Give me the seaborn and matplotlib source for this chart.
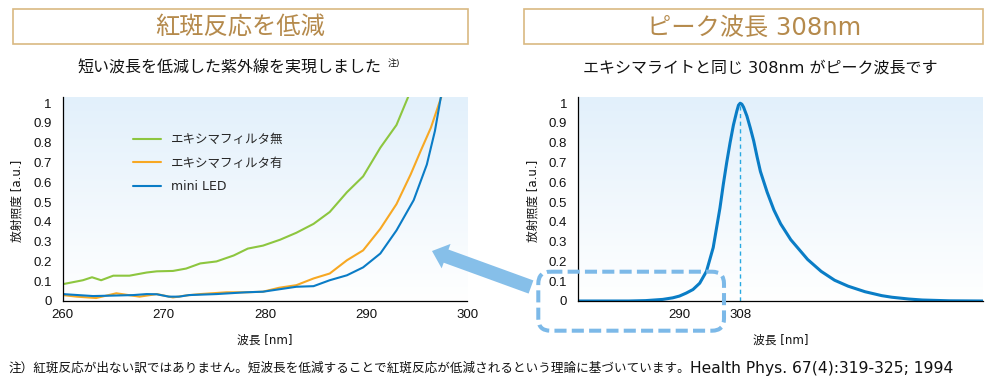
import numpy as np
import pandas as pd
import matplotlib
matplotlib.use("Agg")
import matplotlib.pyplot as plt
import seaborn as sns
from matplotlib.colors import LinearSegmentedColormap
from matplotlib.patches import Rectangle, FancyBboxPatch, FancyArrow

'''DATA (read off the reference)'''
series_names = ["エキシマフィルタ無", "エキシマフィルタ有", "mini LED"]
series_colors = ["#8dc63f", "#f7a823", "#0a7cc6"]

green_nm = [260, 261, 262, 262.9, 263.8, 265, 266.6, 268.3, 269.3, 270.9, 272.2, 273.6,
            275.2, 276.9, 278.3, 279.8, 281.5, 283.1, 284.8, 286.4, 288.1, 289.7,
            291.4, 293, 294.3]
green_val = [0.085, 0.095, 0.105, 0.12, 0.105, 0.128, 0.128, 0.144, 0.15, 0.152, 0.164, 0.19,
             0.2, 0.23, 0.265, 0.28, 0.31, 0.345, 0.39, 0.45, 0.55, 0.63,
             0.775, 0.89, 1.05]

orange_nm = [260, 261.4, 263.3, 265.3, 266.5, 267.6, 269.3, 270.9, 272.2, 273.6, 276.2, 278.1,
             279.8, 281.4, 283.1, 284.8, 286.4, 288.1, 289.7, 291.4, 293, 294.4, 295.4,
             296.4, 297.55]
orange_val = [0.03, 0.022, 0.015, 0.039, 0.03, 0.022, 0.035, 0.018, 0.028, 0.035, 0.044, 0.044,
              0.047, 0.067, 0.08, 0.114, 0.139, 0.206, 0.256, 0.365, 0.49, 0.64, 0.76,
              0.876, 1.05]

blue_nm = [260, 261.5, 263, 264.7, 267, 268.3, 269.3, 270.5, 271.5, 272.5, 275.2, 278.1,
           279.8, 283.1, 284.8, 286.4, 288.1, 289.7, 291.4, 293, 294.7, 296, 296.8, 297.45]
blue_val = [0.035, 0.03, 0.025, 0.027, 0.03, 0.035, 0.034, 0.022, 0.022, 0.03, 0.035, 0.044,
            0.047, 0.072, 0.075, 0.105, 0.13, 0.17, 0.24, 0.357, 0.51, 0.69, 0.86, 1.05]

peak_nm = [260, 275, 280, 285, 288, 290, 292, 294, 296, 298, 300, 302, 303, 304, 305, 306,
           307, 307.5, 308, 308.5, 309, 310, 311, 312, 313, 314, 316, 318, 320, 323, 326,
           328, 332, 336, 340, 345, 350, 353, 358, 362, 370, 380]
peak_val = [0, 0, 0.002, 0.008, 0.016, 0.025, 0.04, 0.058, 0.09, 0.15, 0.27, 0.47, 0.59, 0.7,
            0.8, 0.89, 0.96, 0.99, 1.0, 0.995, 0.98, 0.935, 0.875, 0.81, 0.73, 0.655, 0.55,
            0.46, 0.39, 0.31, 0.25, 0.21, 0.15, 0.105, 0.075, 0.047, 0.027, 0.019, 0.01,
            0.005, 0.001, 0.0]

left_xticks = [260, 270, 280, 290, 300]
right_xticks = [290, 308]
y_ticks = [0, 0.1, 0.2, 0.3, 0.4, 0.5, 0.6, 0.7, 0.8, 0.9, 1]

'''STYLE'''
sns.set_theme(style="white")
plt.rcParams['font.family'] = ['DejaVu Sans', 'Noto Sans CJK JP']
tick_font = ['Liberation Sans', 'Noto Sans CJK JP']

fig = plt.figure(figsize=(10, 3.83), dpi=100)
ax1 = fig.add_axes([0.0627, 0.2141, 0.4046, 0.5319])
ax2 = fig.add_axes([0.5783, 0.2141, 0.4047, 0.5319])

grad_cmap = LinearSegmentedColormap.from_list("bg", ["#ffffff", "#e2f0fb"])
grad = np.linspace(0, 1, 256).reshape(-1, 1)


def style_axes(ax, xlim, xticks):
    ax.imshow(grad, cmap=grad_cmap, aspect="auto", origin="lower",
              extent=[0, 1, 0, 1], transform=ax.transAxes, zorder=0)
    ax.set_xlim(*xlim)
    ax.set_ylim(0, 1.03)
    ax.set_xticks(xticks)
    ax.set_xticklabels([str(t) for t in xticks], family=tick_font)
    ax.set_yticks(y_ticks)
    ax.set_yticklabels(["%g" % t for t in y_ticks], family=tick_font)
    ax.tick_params(axis="x", length=0, pad=6, labelsize=9.5, colors="#111111")
    ax.tick_params(axis="y", length=0, pad=8, labelsize=9.5, colors="#111111")
    for s in ["top", "right"]:
        ax.spines[s].set_visible(False)
    for s in ["left", "bottom"]:
        ax.spines[s].set_color("black")
        ax.spines[s].set_linewidth(0.9)
    ax.set_xlabel("波長 [nm]", fontsize=8.5, color="#111111")
    ax.set_ylabel("放射照度 [a.u.]", fontsize=8.5, color="#111111")
    ax.xaxis.set_label_coords(0.5, -0.16)
    ax.yaxis.set_label_coords(-0.096, 0.49)
    ax.grid(False)


'''LEFT CHART'''
df_left = pd.concat([
    pd.DataFrame({"nm": green_nm, "val": green_val, "series": series_names[0]}),
    pd.DataFrame({"nm": orange_nm, "val": orange_val, "series": series_names[1]}),
    pd.DataFrame({"nm": blue_nm, "val": blue_val, "series": series_names[2]}),
])
sns.lineplot(data=df_left, x="nm", y="val", hue="series", hue_order=series_names,
             palette=series_colors, linewidth=1.5, errorbar=None, ax=ax1)
style_axes(ax1, (260, 300), left_xticks)
handles, labels = ax1.get_legend_handles_labels()
ax1.legend(handles, labels, loc="upper left", bbox_to_anchor=(0.173, 0.825),
           frameon=False, fontsize=9, handlelength=2.3, handletextpad=0.75,
           labelspacing=0.85, borderpad=0, borderaxespad=0)

'''RIGHT CHART'''
df_right = pd.DataFrame({"nm": peak_nm, "val": peak_val})
sns.lineplot(data=df_right, x="nm", y="val", color="#0a7dc6", linewidth=2.2,
             errorbar=None, ax=ax2)
i_peak = int(np.argmax(peak_val))
ax2.vlines(peak_nm[i_peak], 0, peak_val[i_peak], colors="#29a9e1",
           linestyles=(0, (3, 2.5)), linewidth=1.0, zorder=1)
style_axes(ax2, (260, 380), right_xticks)

'''OVERLAY: titles, arrow, dashed box, note'''
ov = fig.add_axes([0, 0, 1, 1], zorder=10)
ov.set_xlim(0, 1000)
ov.set_ylim(383, 0)
ov.axis("off")

gold_edge = "#d9b982"
gold_text = "#b58a4c"
ov.add_patch(Rectangle((12.7, 9.3), 455.6, 35, fill=False, ec=gold_edge, lw=1.2))
ov.add_patch(Rectangle((524.3, 9.3), 459, 35, fill=False, ec=gold_edge, lw=1.2))
ov.text(240.5, 27.5, "紅斑反応を低減", ha="center", va="center", fontsize=17.5, color=gold_text)
ov.text(753.8, 27.5, "ピーク波長 308nm", ha="center", va="center", fontsize=17.5, color=gold_text)

ov.text(229.5, 68, "短い波長を低減した紫外線を実現しました", ha="center", va="center",
        fontsize=11.5, color="#111111")
ov.text(388, 63, "注)", ha="left", va="center", fontsize=6.5, color="#111111")
ov.text(760, 68, "エキシマライトと同じ 308nm がピーク波長です", ha="center", va="center",
        fontsize=11.5, color="#111111")

ov.add_patch(FancyArrow(531, 287, -99, -36, width=14, head_width=26, head_length=15,
                        length_includes_head=True, color="#86bfe9", lw=0))
ov.add_patch(FancyBboxPatch((538.3, 271.7), 185.7, 59,
                            boxstyle="round,pad=0,rounding_size=12",
                            fill=False, ec="#7cb9e8", lw=2.9, linestyle=(0, (3, 1.3))))

ov.text(8, 368, "注）紅斑反応が出ない訳ではありません。短波長を低減することで紅斑反応が低減されるという理論に基づいています。",
        ha="left", va="center", fontsize=9.05, color="#111111")
ov.text(690, 368, "Health Phys. 67(4):319-325; 1994",
        ha="left", va="center", fontsize=11.2, color="#111111")

plt.savefig("out.png", dpi=100)
